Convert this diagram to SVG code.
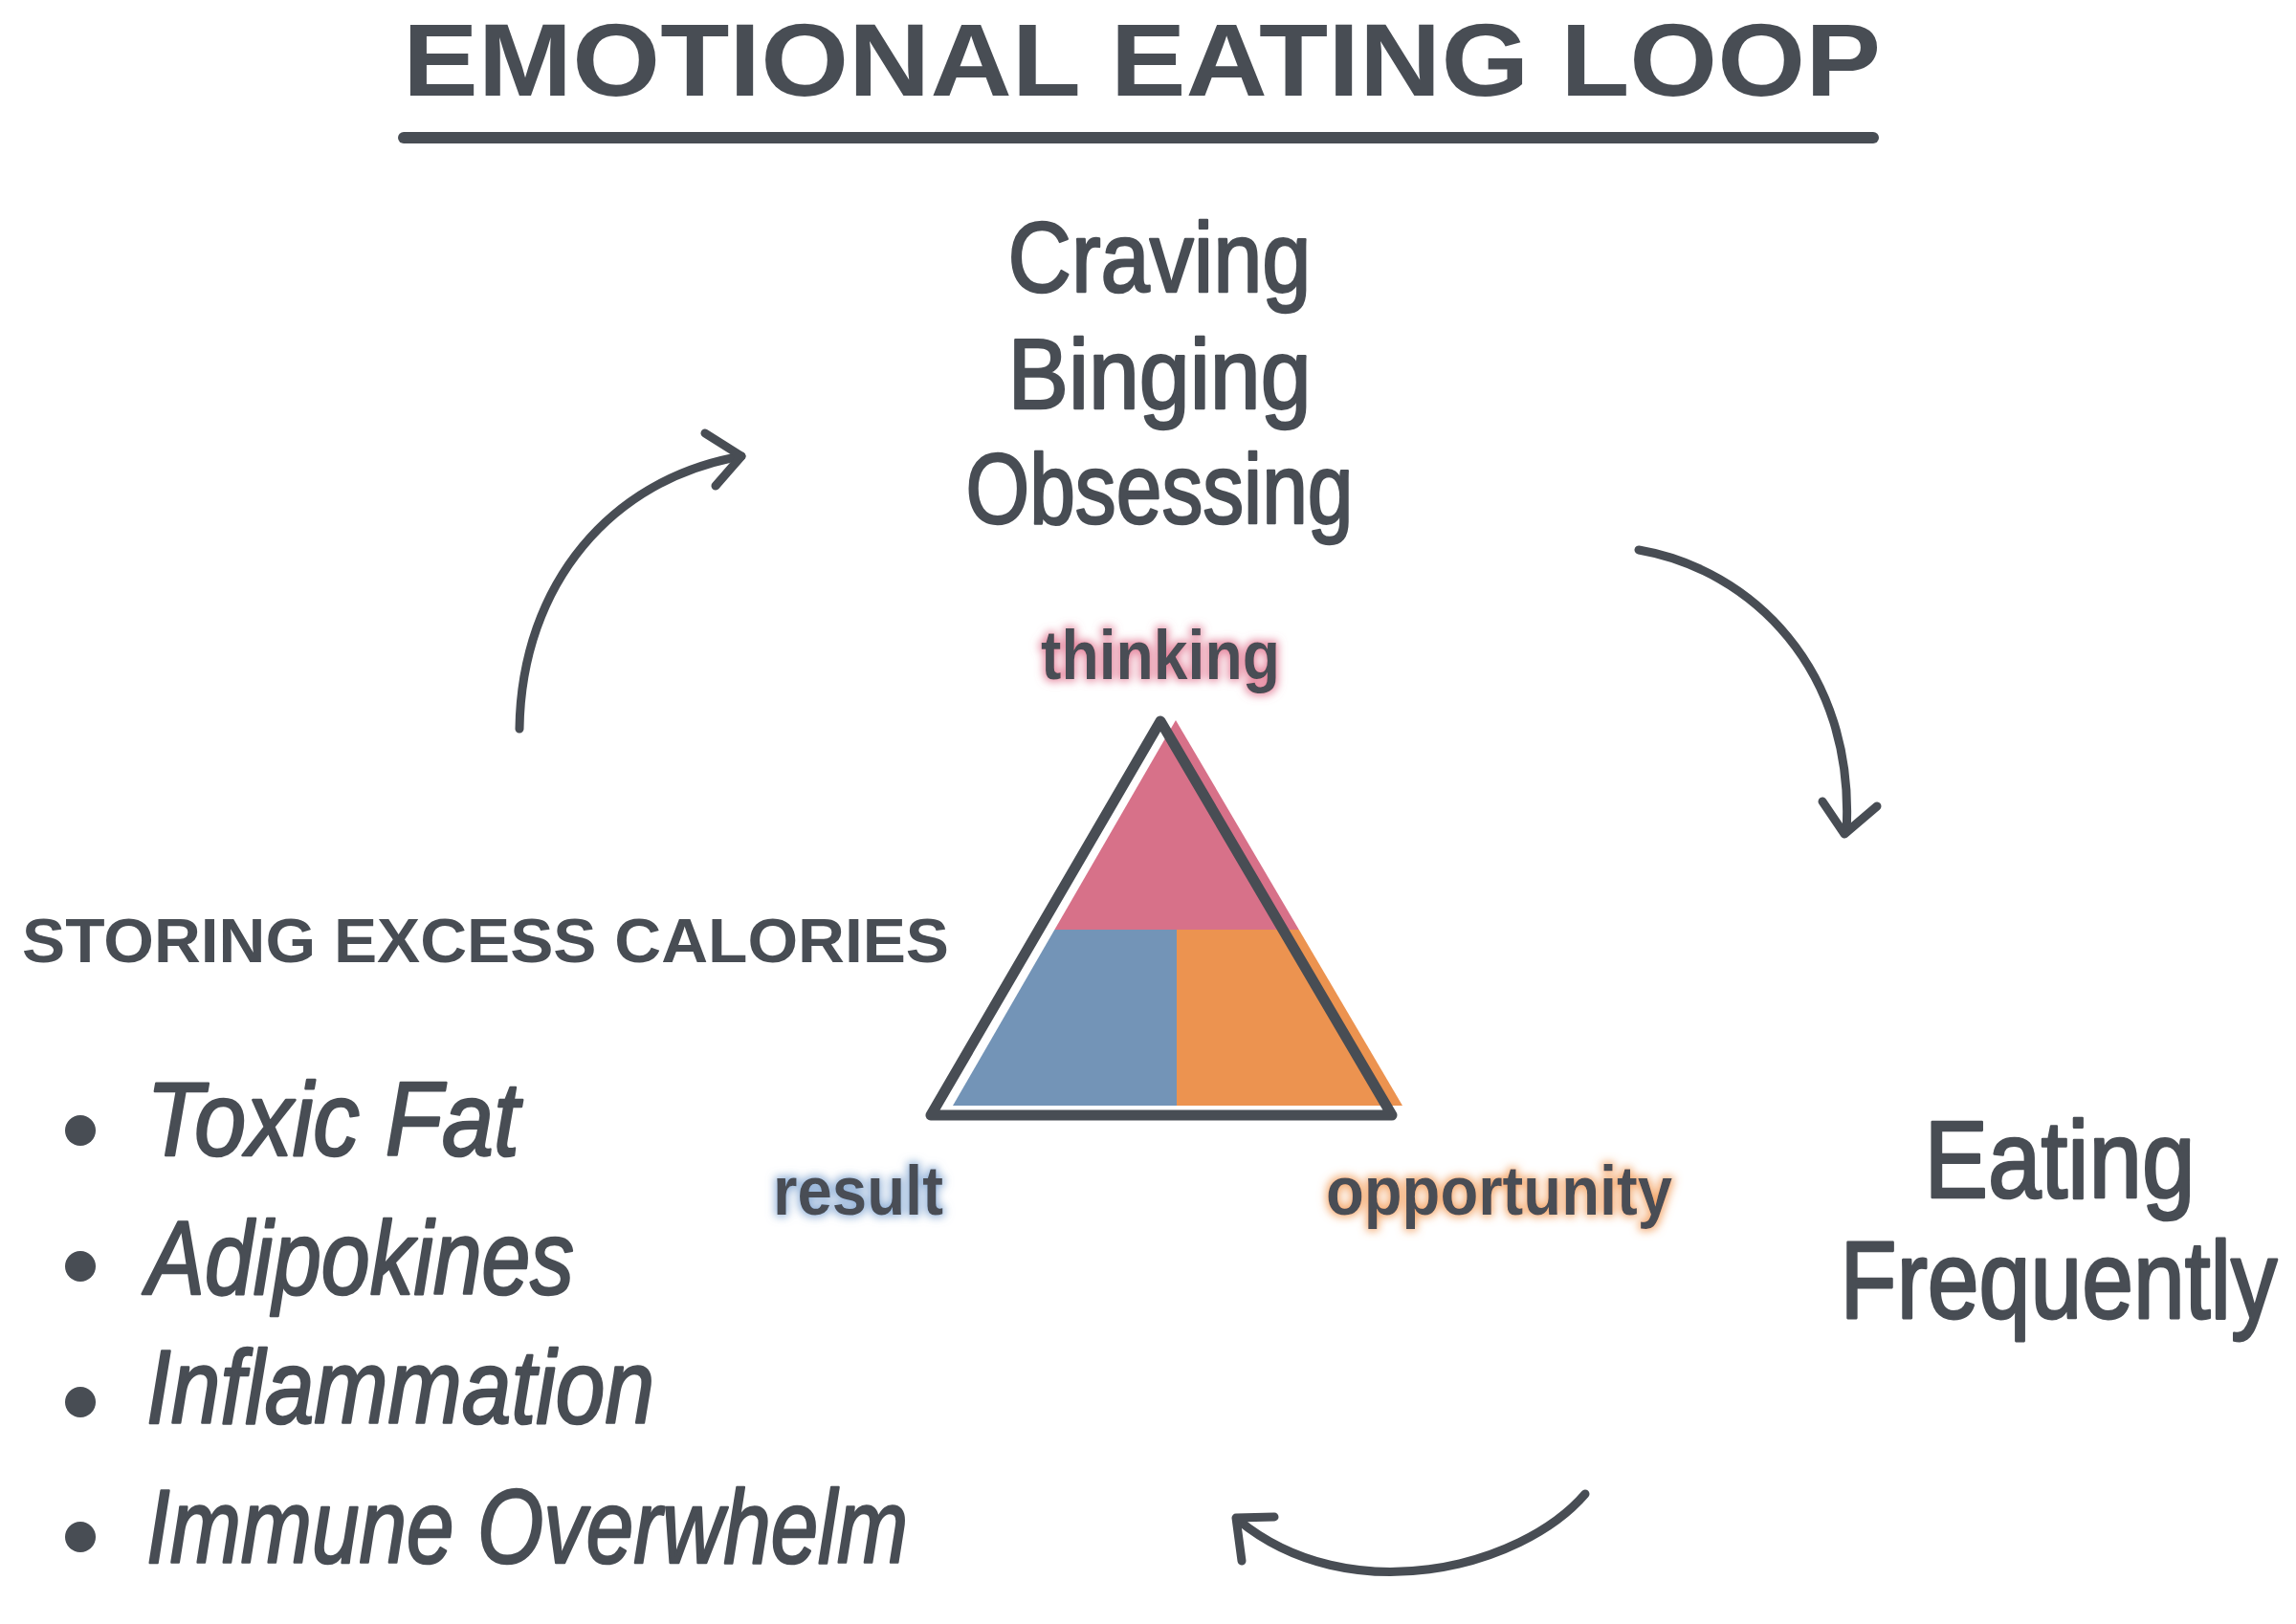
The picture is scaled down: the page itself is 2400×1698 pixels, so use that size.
<svg xmlns="http://www.w3.org/2000/svg" width="2400" height="1698" viewBox="0 0 2400 1698">
<defs>
<style>
.t{fill:#484d54;font-family:"Liberation Sans","DejaVu Sans",sans-serif;}
.title{font-weight:bold;font-size:108px;}
.hand{font-size:104px;stroke:#484d54;stroke-width:2.5px;stroke-linejoin:round;}
.lab{font-size:72px;font-weight:bold;}
.cap{font-weight:bold;font-size:64px;}
.item{font-size:110px;font-style:italic;stroke:#484d54;stroke-width:2.5px;stroke-linejoin:round;}
.arc{fill:none;stroke:#484d54;stroke-width:9;stroke-linecap:round;stroke-linejoin:round;}
</style>
<filter id="gPink" x="-20%" y="-50%" width="140%" height="200%">
<feMorphology in="SourceAlpha" operator="dilate" radius="2" result="d"/>
<feGaussianBlur in="d" stdDeviation="5" result="b"/>
<feFlood flood-color="#e0708c" flood-opacity="0.85"/>
<feComposite in2="b" operator="in" result="g"/>
<feMerge><feMergeNode in="g"/><feMergeNode in="SourceGraphic"/></feMerge>
</filter>
<filter id="gBlue" x="-20%" y="-50%" width="140%" height="200%">
<feMorphology in="SourceAlpha" operator="dilate" radius="2" result="d"/>
<feGaussianBlur in="d" stdDeviation="5" result="b"/>
<feFlood flood-color="#7ea3d0" flood-opacity="0.85"/>
<feComposite in2="b" operator="in" result="g"/>
<feMerge><feMergeNode in="g"/><feMergeNode in="SourceGraphic"/></feMerge>
</filter>
<filter id="gOrange" x="-20%" y="-50%" width="140%" height="200%">
<feMorphology in="SourceAlpha" operator="dilate" radius="2" result="d"/>
<feGaussianBlur in="d" stdDeviation="5" result="b"/>
<feFlood flood-color="#f29a55" flood-opacity="0.85"/>
<feComposite in2="b" operator="in" result="g"/>
<feMerge><feMergeNode in="g"/><feMergeNode in="SourceGraphic"/></feMerge>
</filter>
<clipPath id="triClip"><polygon points="1229,753 996,1156 1466,1156"/></clipPath>
</defs>
<rect width="2400" height="1698" fill="#ffffff"/>

<g id="title">
<text class="t title" x="421" y="100" textLength="1545" lengthAdjust="spacingAndGlyphs">EMOTIONAL EATING LOOP</text>
<line x1="422" y1="144" x2="1958" y2="144" stroke="#484d54" stroke-width="12" stroke-linecap="round"/>
</g>

<g id="node-thinking-behaviours">
<text class="t hand" x="1212" y="305" text-anchor="middle" textLength="317" lengthAdjust="spacingAndGlyphs">Craving</text>
<text class="t hand" x="1212" y="427" text-anchor="middle" textLength="317" lengthAdjust="spacingAndGlyphs">Binging</text>
<text class="t hand" x="1212" y="547" text-anchor="middle" textLength="405" lengthAdjust="spacingAndGlyphs">Obsessing</text>
</g>

<g id="node-triangle">
<g clip-path="url(#triClip)">
<rect x="990" y="740" width="490" height="232" fill="#d77189"/>
<rect x="990" y="972" width="240" height="200" fill="#7394b7"/>
<rect x="1230" y="972" width="250" height="200" fill="#ec9350"/>
</g>
<polygon points="1213,754 973,1166 1455,1166" fill="none" stroke="#484d54" stroke-width="11" stroke-linejoin="round"/>
<text class="t lab" x="1088" y="710" textLength="250" lengthAdjust="spacingAndGlyphs" filter="url(#gPink)">thinking</text>
<text class="t lab" x="808" y="1270" textLength="178" lengthAdjust="spacingAndGlyphs" filter="url(#gBlue)">result</text>
<text class="t lab" x="1386" y="1270" textLength="362" lengthAdjust="spacingAndGlyphs" filter="url(#gOrange)">opportunity</text>
</g>

<g id="node-eating-frequently">
<text class="t hand" x="0" y="0" text-anchor="middle" font-size="100" transform="translate(2153,1252) scale(0.96,1.1)">Eating</text>
<text class="t hand" x="0" y="0" text-anchor="middle" font-size="100" transform="translate(2152,1378) scale(0.93,1.1)">Frequently</text>
</g>

<g id="node-storing">
<text class="t cap" x="23" y="1006" textLength="969" lengthAdjust="spacingAndGlyphs">STORING EXCESS CALORIES</text>
<circle cx="84" cy="1182" r="16" fill="#484d54"/>
<circle cx="84" cy="1324" r="16" fill="#484d54"/>
<circle cx="84" cy="1466" r="16" fill="#484d54"/>
<circle cx="84" cy="1607" r="16" fill="#484d54"/>
<text class="t item" x="153" y="1208" textLength="390" lengthAdjust="spacingAndGlyphs">Toxic Fat</text>
<text class="t item" x="153" y="1353" textLength="447" lengthAdjust="spacingAndGlyphs">Adipokines</text>
<text class="t item" x="153" y="1488" textLength="531" lengthAdjust="spacingAndGlyphs">Inflammation</text>
<text class="t item" x="153" y="1634" textLength="796" lengthAdjust="spacingAndGlyphs">Immune Overwhelm</text>
</g>

<g id="connectors">
<path class="arc" d="M543,762 C545,610 640,500 775,477"/>
<polyline class="arc" points="737,453 775,477 748,508"/>
<path class="arc" d="M1713,575 C1830,595 1940,700 1930,870"/>
<polyline class="arc" points="1905,838 1928,872 1962,843"/>
<path class="arc" d="M1657,1562 C1590,1640 1410,1685 1294,1589"/>
<polyline class="arc" points="1332,1586 1292,1587 1298,1632"/>
</g>
</svg>
